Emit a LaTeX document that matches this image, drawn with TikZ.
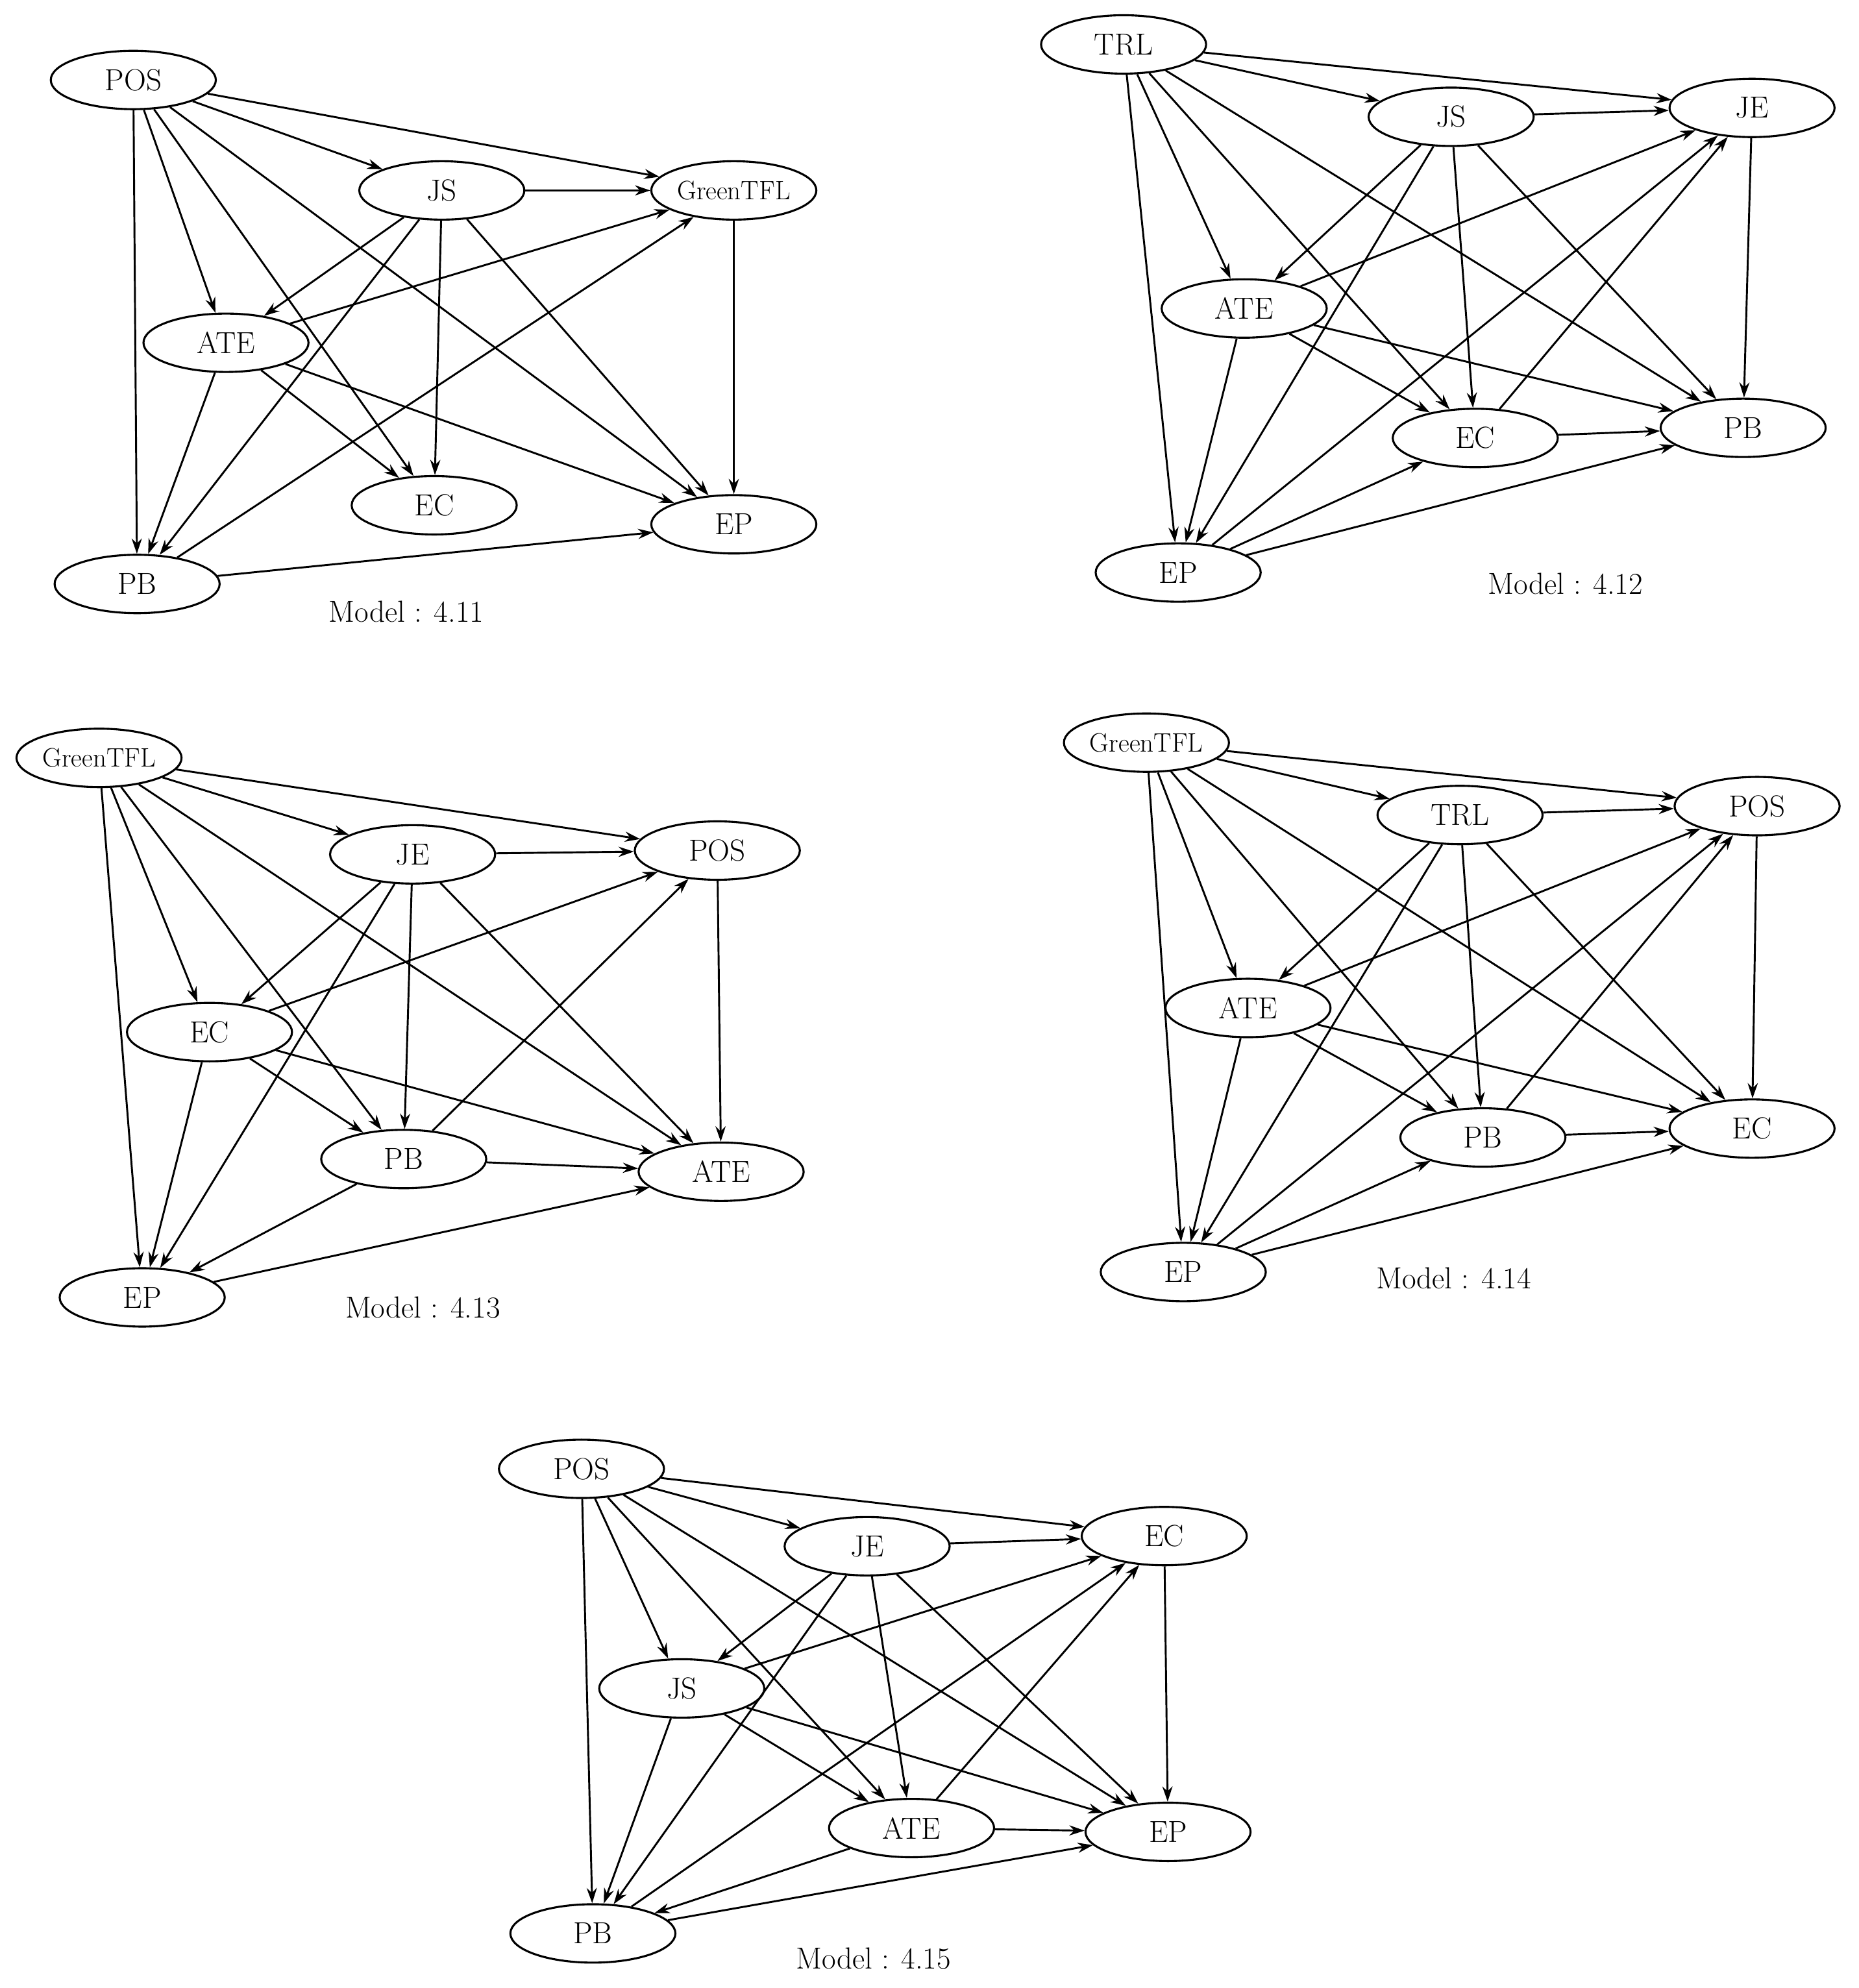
\documentclass[tikz,border=0pt]{standalone}
\usetikzlibrary{shapes.geometric,arrows.meta}
\begin{document}
\begin{tikzpicture}[x=1pt,y=-1pt,
 v/.style={ellipse,draw,line width=1.6pt,minimum width=130pt,minimum height=46pt,inner sep=0pt,font=\fontsize{24}{26}\selectfont},
 vs/.style={v,font=\fontsize{21}{24}\selectfont},
 e/.style={-{Stealth[length=12pt,width=8pt]},line width=1.5pt},
 lab/.style={font=\fontsize{24}{26}\selectfont}]
\useasboundingbox (0,0) rectangle (1464,1566);
% Model 4.11
\node[v] (aPOS) at (105,63) {POS};
\node[v] (aJS) at (348,150) {JS};
\node[vs] (aG) at (578,150) {GreenTFL};
\node[v] (aATE) at (178,270) {ATE};
\node[v] (aEC) at (342,398) {EC};
\node[v] (aEP) at (578,413) {EP};
\node[v] (aPB) at (108,460) {PB};
\node[lab] (aL) at (320,482) {Model : 4.11};
\foreach \s/\t in {aPOS/aJS,aPOS/aG,aPOS/aATE,aPOS/aPB,aPOS/aEC,aPOS/aEP,aJS/aG,aJS/aATE,aJS/aPB,aJS/aEC,aJS/aEP,aATE/aG,aATE/aPB,aATE/aEC,aATE/aEP,aPB/aG,aPB/aEP,aG/aEP}
 \draw[e] (\s) -- (\t);
% Model 4.12
\node[v] (bTRL) at (885,35) {TRL};
\node[v] (bJS) at (1143,92) {JS};
\node[v] (bJE) at (1380,85) {JE};
\node[v] (bATE) at (980,243) {ATE};
\node[v] (bEC) at (1162,345) {EC};
\node[v] (bPB) at (1373,337) {PB};
\node[v] (bEP) at (928,451) {EP};
\node[lab] (bL) at (1233,460) {Model : 4.12};
\foreach \s/\t in {bTRL/bJS,bTRL/bJE,bTRL/bATE,bTRL/bEP,bTRL/bEC,bTRL/bPB,bJS/bJE,bJS/bATE,bJS/bEP,bJS/bEC,bJS/bPB,bATE/bJE,bATE/bEP,bATE/bEC,bATE/bPB,bEC/bJE,bEC/bPB,bEP/bJE,bEP/bEC,bEP/bPB,bJE/bPB}
 \draw[e] (\s) -- (\t);
% Model 4.13
\node[vs] (cG) at (78,597) {GreenTFL};
\node[v] (cJE) at (325,673) {JE};
\node[v] (cPOS) at (565,670) {POS};
\node[v] (cEC) at (165,813) {EC};
\node[v] (cPB) at (318,913) {PB};
\node[v] (cATE) at (568,923) {ATE};
\node[v] (cEP) at (112,1022) {EP};
\node[lab] (cL) at (333,1030) {Model : 4.13};
\foreach \s/\t in {cG/cJE,cG/cPOS,cG/cEC,cG/cEP,cG/cPB,cG/cATE,cJE/cPOS,cJE/cEC,cJE/cEP,cJE/cPB,cJE/cATE,cEC/cPOS,cEC/cEP,cEC/cPB,cEC/cATE,cPB/cPOS,cPB/cATE,cPB/cEP,cEP/cATE,cPOS/cATE}
 \draw[e] (\s) -- (\t);
% Model 4.14
\node[vs] (dG) at (903,585) {GreenTFL};
\node[v] (dTRL) at (1150,642) {TRL};
\node[v] (dPOS) at (1384,635) {POS};
\node[v] (dATE) at (983,794) {ATE};
\node[v] (dPB) at (1168,896) {PB};
\node[v] (dEC) at (1380,889) {EC};
\node[v] (dEP) at (932,1002) {EP};
\node[lab] (dL) at (1145,1007) {Model : 4.14};
\foreach \s/\t in {dG/dTRL,dG/dPOS,dG/dATE,dG/dEP,dG/dPB,dG/dEC,dTRL/dPOS,dTRL/dATE,dTRL/dEP,dTRL/dPB,dTRL/dEC,dATE/dPOS,dATE/dEP,dATE/dPB,dATE/dEC,dPB/dPOS,dPB/dEC,dEP/dPOS,dEP/dPB,dEP/dEC,dPOS/dEC}
 \draw[e] (\s) -- (\t);
% Model 4.15
\node[v] (ePOS) at (458,1157) {POS};
\node[v] (eJE) at (683,1218) {JE};
\node[v] (eEC) at (917,1210) {EC};
\node[v] (eJS) at (537,1330) {JS};
\node[v] (eATE) at (718,1440) {ATE};
\node[v] (eEP) at (920,1443) {EP};
\node[v] (ePB) at (467,1523) {PB};
\node[lab] (eL) at (688,1543) {Model : 4.15};
\foreach \s/\t in {ePOS/eJE,ePOS/eEC,ePOS/eJS,ePOS/ePB,ePOS/eATE,ePOS/eEP,eJE/eEC,eJE/eJS,eJE/ePB,eJE/eATE,eJE/eEP,eJS/eEC,eJS/ePB,eJS/eATE,eJS/eEP,eATE/eEC,eATE/eEP,eATE/ePB,ePB/eEC,ePB/eEP,eEC/eEP}
 \draw[e] (\s) -- (\t);
\end{tikzpicture}
\end{document}
